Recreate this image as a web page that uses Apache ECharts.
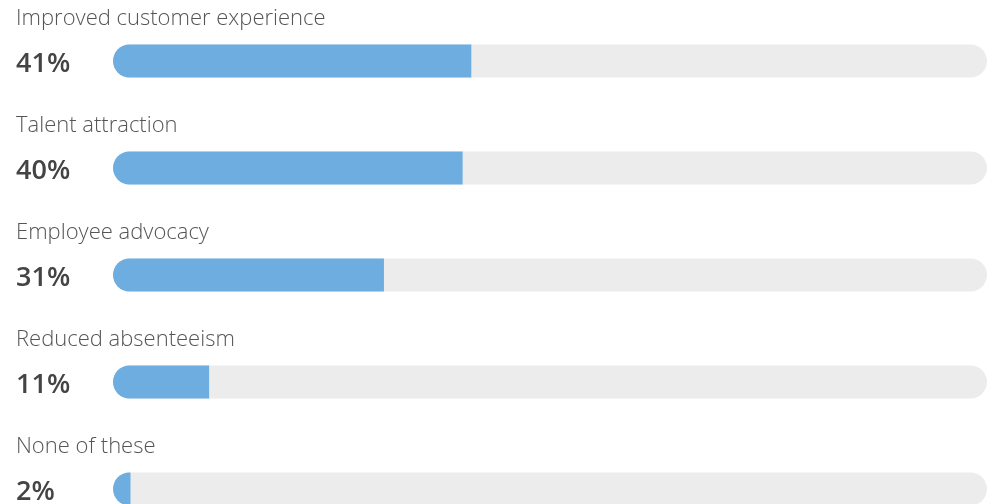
<!DOCTYPE html>
<html>
<head>
<meta charset="utf-8">
<script src="https://cdn.jsdelivr.net/npm/echarts@6/dist/echarts.min.js"></script>
<style>
html,body{margin:0;padding:0;background:#fff;}
#chart{width:997px;height:504px;}
</style>
</head>
<body>
<div id="chart"></div>
<script>
const categories = ["Improved customer experience", "Talent attraction", "Employee advocacy", "Reduced absenteeism", "None of these"];
const values = [41, 40, 31, 11, 2];

const chart = echarts.init(document.getElementById('chart'));
chart.setOption({
  animation: false,
  grid: { left: 113, right: 10, top: 7.5, height: 535, containLabel: false, outerBoundsMode: 'none' },
  xAxis: { type: 'value', min: 0, max: 100, show: false },
  yAxis: {
    type: 'category', data: categories, inverse: true,
    axisLine: { show: false }, axisTick: { show: false }, splitLine: { show: false },
    axisLabel: { show: false }
  },
  series: [{
    type: 'bar', data: values, barWidth: 33,
    itemStyle: { color: '#6eaddf', borderRadius: [16.5, 0, 0, 16.5] },
    showBackground: true,
    backgroundStyle: { color: '#ececec', borderRadius: 16.5 },
    label: {
      show: true, position: [-97, 19.5], align: 'left', verticalAlign: 'middle',
      formatter: p => p.value + '%',
      fontFamily: 'Open Sans', fontWeight: 600, fontSize: 27, color: '#444444'
    }
  }, {
    type: 'bar', data: values, barWidth: 33, barGap: '-100%', silent: true,
    itemStyle: { color: 'rgba(0,0,0,0)' },
    label: {
      show: true, position: [-97, -25.5], align: 'left', verticalAlign: 'middle',
      formatter: p => p.name,
      fontFamily: 'Open Sans', fontWeight: 300, fontSize: 22, color: '#555555'
    }
  }]
});
</script>
</body>
</html>
